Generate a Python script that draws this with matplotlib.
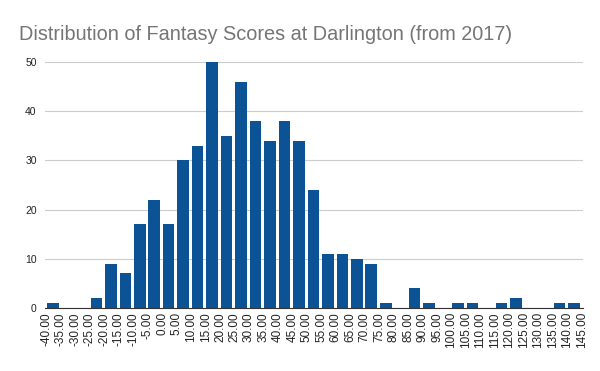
import numpy as np
import matplotlib
matplotlib.use("Agg")
import matplotlib.pyplot as plt

plt.rcParams['font.family'] = ['Liberation Sans', 'DejaVu Sans']

# bin edges shown as tick labels
edges = [-40, -35, -30, -25, -20, -15, -10, -5, 0, 5, 10, 15, 20, 25, 30, 35, 40, 45,
         50, 55, 60, 65, 70, 75, 80, 85, 90, 95, 100, 105, 110, 115, 120, 125, 130,
         135, 140, 145]
# counts per bin
counts = [1, 0, 0, 2, 9, 7, 17, 22, 17, 30, 33, 50, 35, 46, 38, 34, 38, 34, 24,
          11, 11, 10, 9, 1, 0, 4, 1, 0, 1, 1, 0, 1, 2, 0, 0, 1, 1]

fig = plt.figure(figsize=(6, 3.71), dpi=100)
ax = fig.add_axes([0.075, 0.17, 0.897, 0.663])

x = np.arange(len(counts)) + 0.45
ax.bar(x, counts, width=0.8, color='#0b5394', zorder=3)

ax.set_xticks(np.arange(len(edges)))
ax.set_xticklabels(['%.2f' % e for e in edges], rotation=90, fontsize=8.5, color='#222222')
ax.set_xlim(-0.1, len(edges) - 0.9)
ax.set_ylim(0, 50)
ax.set_yticks([0, 10, 20, 30, 40, 50])
ax.tick_params(axis='y', labelsize=7.5, colors='#222222', length=0, pad=6)
ax.tick_params(axis='x', length=0, pad=3)
ax.grid(axis='y', color='#cccccc', linewidth=0.8, zorder=0)
for s in ['top', 'right', 'left']:
    ax.spines[s].set_visible(False)
ax.spines['bottom'].set_color('#333333')
ax.spines['bottom'].set_zorder(4)

fig.text(0.032, 0.893, 'Distribution of Fantasy Scores at Darlington (from 2017)',
         fontsize=14.3, color='#757575', ha='left', va='baseline')

fig.savefig('out.png', dpi=100)
